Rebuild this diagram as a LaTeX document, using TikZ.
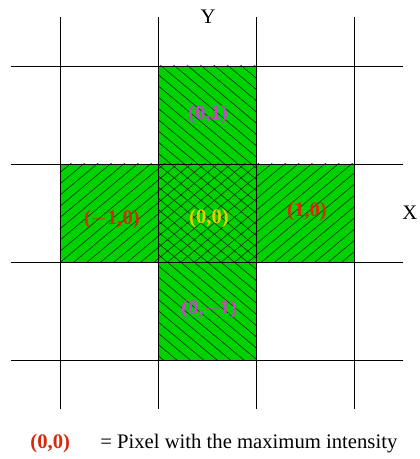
\documentclass[tikz,border=0pt]{standalone}
\usepackage{fontspec}
\setmainfont{Liberation Serif}
\usepackage{tikz}
\usetikzlibrary{patterns.meta}
\definecolor{pixgreen}{RGB}{0,210,0}
\definecolor{hatchcol}{RGB}{0,50,0}
\definecolor{labred}{RGB}{215,40,10}
\definecolor{labmagenta}{RGB}{210,60,210}
\definecolor{labyellow}{RGB}{225,205,0}

\begin{document}
\begin{tikzpicture}[x=2cm, y=2cm,
    hatchne/.style={pattern={Lines[angle=40, distance=5pt, line width=0.35pt]}, pattern color=hatchcol},
    hatchnw/.style={pattern={Lines[angle=-40, distance=5pt, line width=0.35pt]}, pattern color=hatchcol},
    lab/.style={font=\fontsize{12}{14}\selectfont\bfseries}]
    \useasboundingbox (-0.612,-1.010) rectangle (3.663,3.673);
    % 4-neighbourhood of the centre pixel
    \fill[pixgreen] (1,0) rectangle (2,3);
    \fill[pixgreen] (0,1) rectangle (3,2);
    \fill[hatchnw] (1,2) rectangle (2,3);
    \fill[hatchnw] (1,0) rectangle (2,1);
    \fill[hatchne] (0,1) rectangle (1,2);
    \fill[hatchne] (2,1) rectangle (3,2);
    \fill[hatchne] (1,1) rectangle (2,2);
    \fill[hatchnw] (1,1) rectangle (2,2);
    % grid
    \foreach \i in {0,...,3} {
      \draw[line width=0.5pt] (\i,-0.5) -- (\i,3.5);
      \draw[line width=0.5pt] (-0.5,\i) -- (3.5,\i);
    }
    \node[lab, text=labmagenta] (up) at (1.51,2.50) {(0,1)};
    \node[lab, text=labred] (left) at (0.53,1.43) {($-$1,0)};
    \node[lab, text=labyellow] (centre) at (1.52,1.44) {(0,0)};
    \node[lab, text=labred] (right) at (2.52,1.51) {(1,0)};
    \node[lab, text=labmagenta] (down) at (1.52,0.51) {(0,$-$1)};
    \node[font=\fontsize{12}{14}\selectfont] (xaxis) at (3.57,1.50) {X};
    \node[font=\fontsize{12}{14}\selectfont] (yaxis) at (1.51,3.50) {Y};
    % legend
    \node[lab, text=labred] (key) at (-0.10,-0.857) {(0,0)};
    \node[anchor=west, inner sep=0pt, font=\fontsize{12}{14}\selectfont] (keytext) at (0.408,-0.857)
      {= Pixel with the maximum intensity};
\end{tikzpicture}
\end{document}
